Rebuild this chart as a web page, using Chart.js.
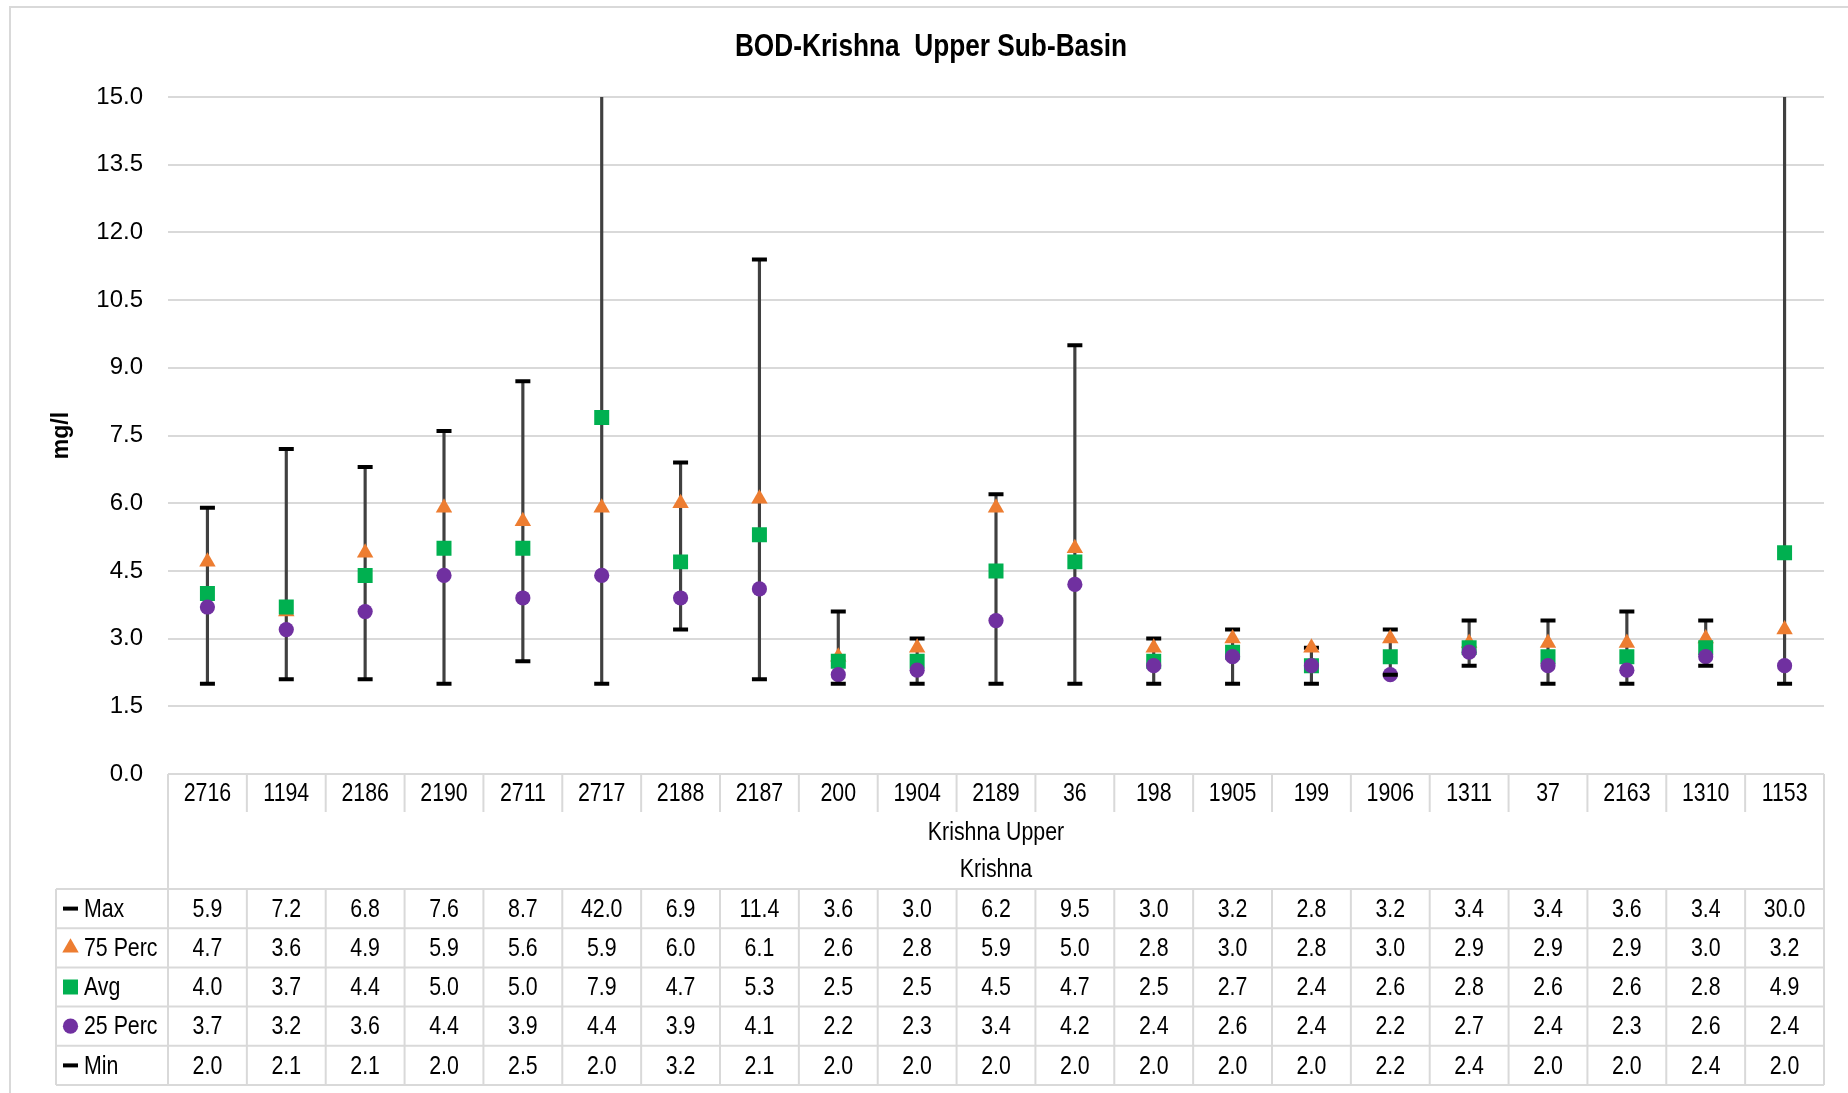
<!DOCTYPE html>
<html>
<head>
<meta charset="utf-8">
<title>BOD-Krishna Upper Sub-Basin</title>
<script src="https://cdn.jsdelivr.net/npm/chart.js@4.4.1/dist/chart.umd.min.js"></script>
<style>
  html, body { margin: 0; padding: 0; background: #fff; overflow: hidden; }
  #wrap { width: 1848px; height: 1093px; }
</style>
</head>
<body>
<div id="wrap"><canvas id="bodChart" width="1848" height="1093"></canvas></div>
<script>
// stations along the Krishna upper sub-basin
const stations = ['2716', '1194', '2186', '2190', '2711', '2717', '2188', '2187', '200', '1904', '2189',
    '36', '198', '1905', '199', '1906', '1311', '37', '2163', '1310', '1153'];

const maxVals = [5.9, 7.2, 6.8, 7.6, 8.7, 42.0, 6.9, 11.4, 3.6, 3.0, 6.2, 9.5, 3.0, 3.2, 2.8, 3.2, 3.4, 3.4, 3.6, 3.4, 30.0];
const perc75 = [4.7, 3.6, 4.9, 5.9, 5.6, 5.9, 6.0, 6.1, 2.6, 2.8, 5.9, 5.0, 2.8, 3.0, 2.8, 3.0, 2.9, 2.9, 2.9, 3.0, 3.2];
const avgVals = [4.0, 3.7, 4.4, 5.0, 5.0, 7.9, 4.7, 5.3, 2.5, 2.5, 4.5, 4.7, 2.5, 2.7, 2.4, 2.6, 2.8, 2.6, 2.6, 2.8, 4.9];
const perc25 = [3.7, 3.2, 3.6, 4.4, 3.9, 4.4, 3.9, 4.1, 2.2, 2.3, 3.4, 4.2, 2.4, 2.6, 2.4, 2.2, 2.7, 2.4, 2.3, 2.6, 2.4];
const minVals = [2.0, 2.1, 2.1, 2.0, 2.5, 2.0, 3.2, 2.1, 2.0, 2.0, 2.0, 2.0, 2.0, 2.0, 2.0, 2.2, 2.4, 2.0, 2.0, 2.4, 2.0];

const chartTitle = 'BOD-Krishna  Upper Sub-Basin';
const groupLabels = ['Krishna Upper', 'Krishna'];
const yTicks = [0, 1.5, 3, 4.5, 6, 7.5, 9, 10.5, 12, 13.5, 15];

const FONT = "'Liberation Sans', Arial, sans-serif";
const GRID = '#d9d9d9';
const NARROW = 0.82; // the original uses a narrow face, squeeze the regular one

// rows of the data table under the chart, in the same order as the reference
const tableRows = [
    { label: 'Max', values: maxVals, style: 'line', radius: 7.5, color: '#000000' },
    { label: '75 Perc', values: perc75, style: 'triangle', radius: 9.5, color: '#ED7D31' },
    { label: 'Avg', values: avgVals, style: 'rect', radius: 10.6, color: '#00B050' },
    { label: '25 Perc', values: perc25, style: 'circle', radius: 7.6, color: '#7030A0' },
    { label: 'Min', values: minVals, style: 'line', radius: 7.5, color: '#000000' }
];

function markerDataset(row, order) {
    return {
        type: 'line',
        label: row.label,
        data: row.values,
        showLine: false,
        order: order,
        pointStyle: row.style,
        pointRadius: row.radius,
        pointHoverRadius: row.radius,
        pointBackgroundColor: row.color,
        pointBorderColor: row.color,
        pointBorderWidth: row.style === 'line' ? 4 : 0
    };
}

function narrowText(ctx, text, x, y, align) {
    ctx.save();
    ctx.translate(x, y);
    ctx.scale(NARROW, 1);
    ctx.textAlign = align;
    ctx.fillText(text, 0, 0);
    ctx.restore();
}

const framePlugin = {
    id: 'frame',
    beforeDraw(chart) {
        const ctx = chart.ctx;
        ctx.save();
        ctx.fillStyle = '#ffffff';
        ctx.fillRect(0, 0, chart.width, chart.height);
        ctx.strokeStyle = GRID;
        ctx.lineWidth = 2;
        ctx.strokeRect(10, 7, chart.width + 20, chart.height + 20);

        ctx.fillStyle = '#000000';
        ctx.font = 'bold 32px ' + FONT;
        ctx.textBaseline = 'middle';
        narrowText(ctx, chartTitle, 931, 47, 'center');
        ctx.restore();
    }
};

const dataTablePlugin = {
    id: 'dataTable',
    afterDraw(chart) {
        const ctx = chart.ctx;
        const xs = chart.scales.x;
        const area = chart.chartArea;
        const colW = xs.getPixelForValue(1) - xs.getPixelForValue(0);
        const left = area.left;
        const right = area.right;
        const top = area.bottom;
        const catBottom = top + 38;
        const groupBottom = top + 115;
        const rowH = 39.2;
        const tableBottom = groupBottom + rowH * tableRows.length;
        const legendLeft = 56;

        ctx.save();
        ctx.strokeStyle = GRID;
        ctx.lineWidth = 2;
        ctx.beginPath();
        ctx.moveTo(left, top); ctx.lineTo(right, top);
        ctx.moveTo(left, top); ctx.lineTo(left, tableBottom);
        ctx.moveTo(right, top); ctx.lineTo(right, tableBottom);
        ctx.moveTo(legendLeft, groupBottom); ctx.lineTo(legendLeft, tableBottom);
        for (let k = 1; k < stations.length; k++) {
            const bx = left + k * colW;
            ctx.moveTo(bx, top); ctx.lineTo(bx, catBottom);
            ctx.moveTo(bx, groupBottom); ctx.lineTo(bx, tableBottom);
        }
        for (let r = 0; r <= tableRows.length; r++) {
            const ry = groupBottom + r * rowH;
            ctx.moveTo(legendLeft, ry); ctx.lineTo(right, ry);
        }
        ctx.stroke();

        ctx.fillStyle = '#000000';
        ctx.font = '26px ' + FONT;
        ctx.textBaseline = 'middle';
        stations.forEach((s, i) => {
            narrowText(ctx, s, xs.getPixelForValue(i), (top + catBottom) / 2 + 1, 'center');
        });
        const midX = (left + right) / 2;
        narrowText(ctx, groupLabels[0], midX, top + 59, 'center');
        narrowText(ctx, groupLabels[1], midX, top + 96, 'center');

        tableRows.forEach((row, r) => {
            const cy = groupBottom + rowH * (r + 0.5) + 1;
            row.values.forEach((v, i) => {
                narrowText(ctx, v.toFixed(1), xs.getPixelForValue(i), cy, 'center');
            });
        });

        // legend keys in the first column of the table
        tableRows.forEach((row, r) => {
            const cy = groupBottom + rowH * (r + 0.5);
            ctx.fillStyle = row.color;
            ctx.strokeStyle = row.color;
            ctx.lineWidth = 4;
            Chart.helpers.drawPoint(ctx, {
                pointStyle: row.style,
                radius: row.radius,
                rotation: 0,
                borderWidth: row.style === 'line' ? 4 : 0
            }, 70.5, cy);
            ctx.fillStyle = '#000000';
            narrowText(ctx, row.label, 84, cy + 1, 'left');
        });
        ctx.restore();
    }
};

const rangeBars = minVals.map((v, i) => [v, maxVals[i]]);

new Chart(document.getElementById('bodChart'), {
    type: 'line',
    data: {
        labels: stations,
        datasets: [
            markerDataset(tableRows[4], 0),
            markerDataset(tableRows[3], 1),
            markerDataset(tableRows[2], 2),
            markerDataset(tableRows[1], 3),
            markerDataset(tableRows[0], 4),
            {
                type: 'bar',
                label: 'Range',
                data: rangeBars,
                order: 5,
                barThickness: 2.5,
                backgroundColor: '#404040',
                clip: 0
            }
        ]
    },
    options: {
        responsive: false,
        animation: false,
        events: [],
        layout: { padding: { left: 38, right: 24, top: 97, bottom: 319 } },
        plugins: {
            legend: { display: false },
            tooltip: { enabled: false },
            title: { display: false }
        },
        scales: {
            x: {
                display: false,
                offset: true
            },
            y: {
                min: 0,
                max: 15,
                afterFit(scale) { scale.width = 130; },
                afterBuildTicks(scale) { scale.ticks = yTicks.map(v => ({ value: v })); },
                grid: { color: GRID, lineWidth: 2, drawTicks: false },
                border: { display: false },
                ticks: {
                    padding: 25,
                    color: '#000000',
                    font: { family: FONT, size: 24 },
                    callback: v => Number(v).toFixed(1)
                },
                title: {
                    display: true,
                    text: 'mg/l',
                    color: '#000000',
                    font: { family: FONT, size: 23, weight: 'bold' },
                    padding: { top: 10, bottom: 0 }
                }
            }
        }
    },
    plugins: [framePlugin, dataTablePlugin]
});
</script>
</body>
</html>
